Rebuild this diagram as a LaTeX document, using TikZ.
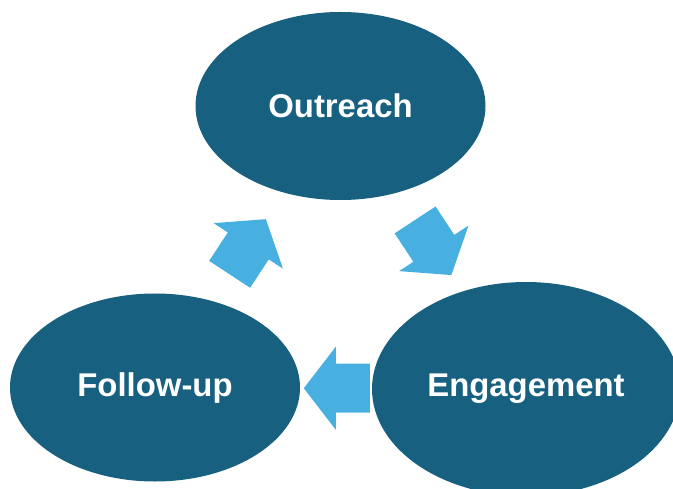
\documentclass[tikz,border=0pt]{standalone}
\usepackage{fontspec}
\setmainfont{Liberation Sans}
\usetikzlibrary{shapes.geometric,calc}

\definecolor{stageblue}{HTML}{17607F}
\definecolor{arrowblue}{HTML}{48B0E0}
\tikzstyle{stage}=[ellipse,fill=stageblue,text=white,inner sep=0pt,minimum width=290bp,minimum height=188bp,font=\fontsize{33}{38}\selectfont\bfseries]
\tikzset{flowarrow/.pic={
    \fill[arrowblue] (-33,-24.5) -- (1,-24.5) -- (1,-41.5) -- (33,0) -- (1,41.5) -- (1,24.5) -- (-33,24.5) -- cycle;}}

\begin{document}
\begin{tikzpicture}[x=1bp, y=-1bp]
    \clip (0,0) rectangle (673,489);
    \useasboundingbox (0,0) rectangle (673,489);
    % First the three stages
    \node[stage] (outreach) at (340.5,106) {Outreach};
    \node[stage] (engage) at (526,389) [minimum width=308bp, minimum height=214bp] {Engagement};
    \node[stage] (follow) at (155,387.5) {Follow-up};
    % Block arrows between the stages
    \foreach \source/\dest/\angle/\where in {outreach/engage/-56.7/0.5, engage/follow/180/0.51, follow/outreach/56.7/0.5}
        \pic[rotate=\angle] at ($(\source)!\where!(\dest)$) {flowarrow};
\end{tikzpicture}
\end{document}
